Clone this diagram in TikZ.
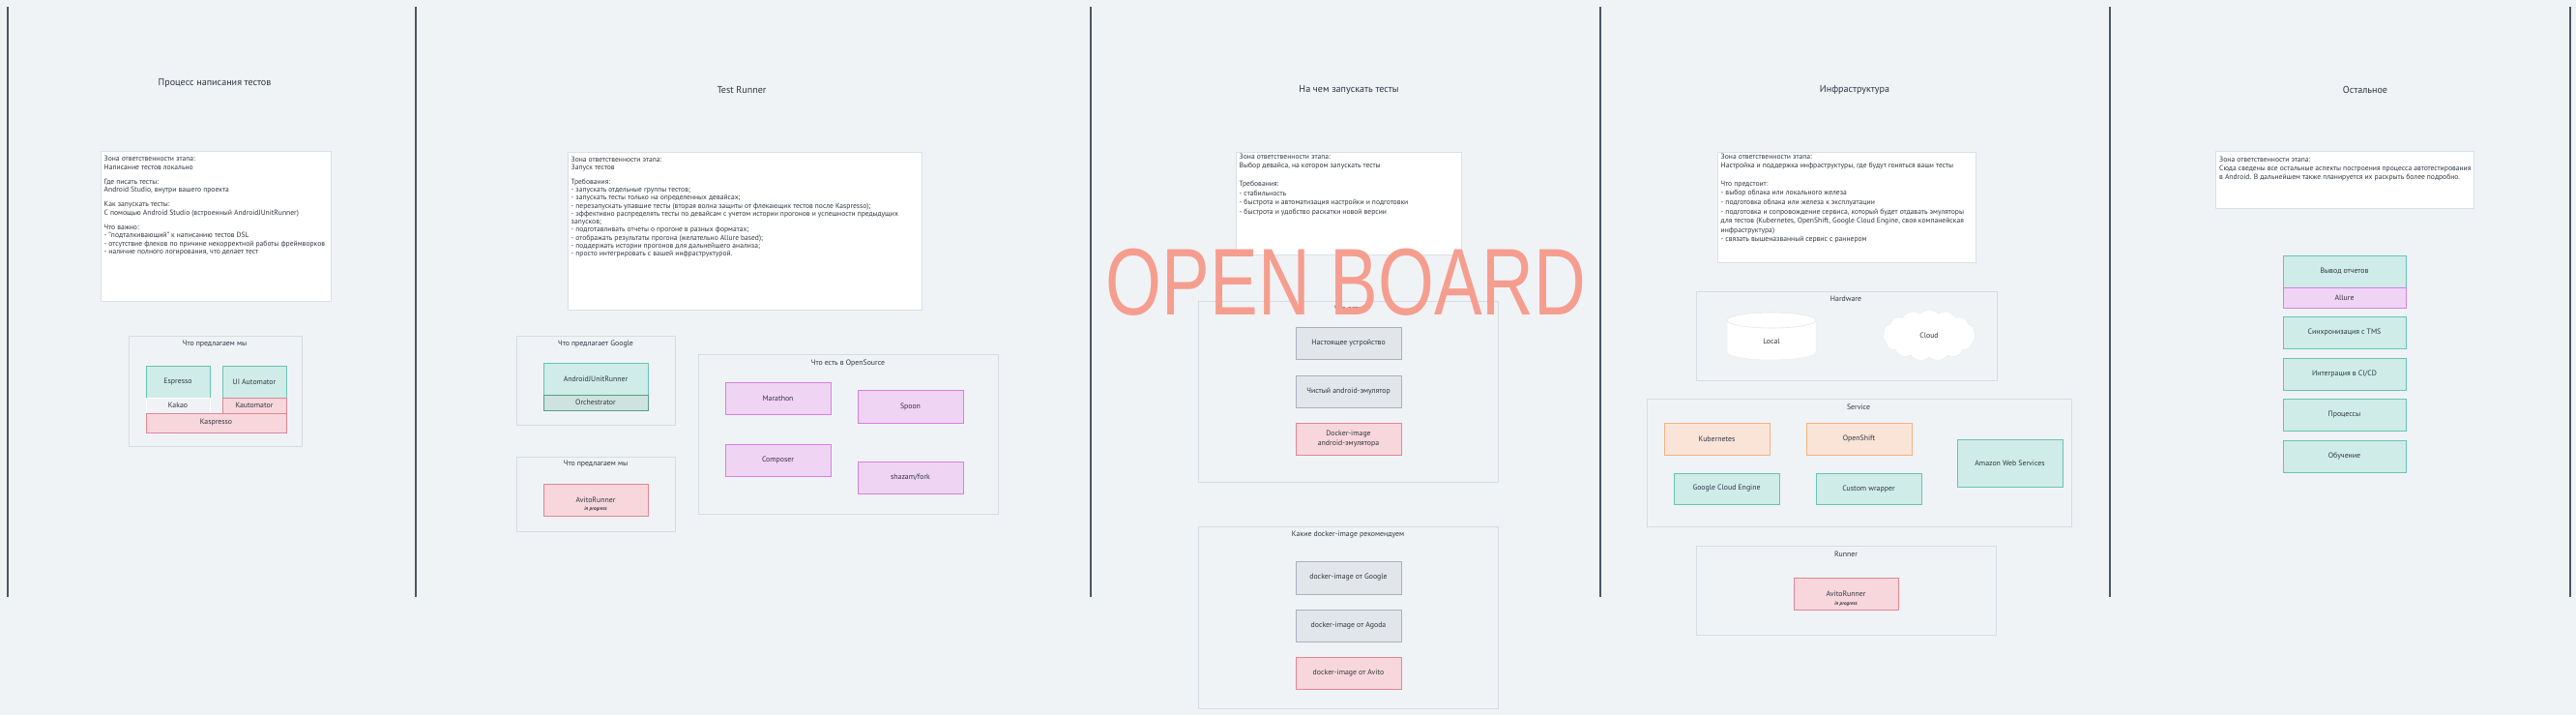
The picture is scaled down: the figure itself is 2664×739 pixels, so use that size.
\documentclass[tikz,border=0pt]{standalone}
\usepackage{fontspec}
\usepackage{graphicx}
\setmainfont{PT Sans}
\newfontfamily\wmfont{Liberation Sans}
\usetikzlibrary{shapes.geometric,shapes.symbols}
\definecolor{bg}{RGB}{240,243,246}
\definecolor{tealF}{RGB}{207,236,233}
\definecolor{tealD}{RGB}{103,196,180}
\definecolor{pinkF}{RGB}{248,215,220}
\definecolor{pinkD}{RGB}{226,133,149}
\definecolor{purpF}{RGB}{240,212,244}
\definecolor{purpD}{RGB}{214,128,224}
\definecolor{greyF}{RGB}{226,230,234}
\definecolor{greyD}{RGB}{168,177,189}
\definecolor{orF}{RGB}{250,228,216}
\definecolor{orD}{RGB}{240,178,130}
\definecolor{orchF}{RGB}{207,227,222}
\definecolor{orchD}{RGB}{84,160,140}
\definecolor{grpD}{RGB}{214,220,228}
\definecolor{wD}{RGB}{218,224,232}
\definecolor{txtC}{RGB}{48,54,66}
\definecolor{vlineC}{RGB}{75,85,100}
\definecolor{wmC}{RGB}{245,158,143}
\newcommand\lblf{\fontsize{7.8}{9.5}\selectfont}
\newcommand\ttlf{\fontsize{10.1}{12}\selectfont}
\newcommand\ipf{\fontsize{5.2}{6}\selectfont\bfseries\itshape}
\newcommand\bx[7]{\node[#6, minimum width={(#4)-(#2)}, minimum height={(#5)-(#3)}] (#1) at ({((#2)+(#4))/2},{((#3)+(#5))/2}) {#7};}
\tikzset{
  base/.style={inner sep=0pt, outer sep=0pt, line width=1pt, align=center, font=\lblf, text=txtC},
  teal/.style={base, fill=tealF, draw=tealD},
  pink/.style={base, fill=pinkF, draw=pinkD},
  purp/.style={base, fill=purpF, draw=purpD},
  grey/.style={base, fill=greyF, draw=greyD},
  orng/.style={base, fill=orF, draw=orD},
  orch/.style={base, fill=orchF, draw=orchD},
  plain/.style={base, fill=bg, draw=white},
  grp/.style={base, draw=grpD},
  wbox/.style={base, fill=white, draw=wD},
  gtitle/.style={font=\lblf, text=txtC, inner sep=0pt},
  stitle/.style={font=\ttlf, text=txtC, inner sep=0pt},
  ipl/.style={font=\ipf, text=txtC, inner sep=0pt},
  body/.style={text=txtC, inner sep=0pt, align=left, anchor=north west},
  vline/.style={draw=vlineC, line width=1.3pt}
}
\begin{document}
\begin{tikzpicture}[x=1pt,y=-1pt]
\fill[bg] (0,0) rectangle (2664,739);
\useasboundingbox (0,0) rectangle (2664,739);

% vertical separators
\foreach \n/\xx in {v1/8,v2/430,v3/1128,v4/1655,v5/2182,v6/2658}{
  \coordinate (\n a) at (\xx,7);
  \coordinate (\n b) at (\xx,617);
  \draw[vline] (\n a) -- (\n b);
}

% section titles
\node[stitle] (s1) at (222,86) {Процесс написания тестов};
\node[stitle] (s2) at (767,93) {Test Runner};
\node[stitle] (s3) at (1395,93) {На чем запускать тесты};
\node[stitle] (s4) at (1918,93) {Инфраструктура};
\node[stitle] (s5) at (2446,93) {Остальное};

% ---------- section 1 ----------
\bx{t1}{104}{156}{342}{311}{wbox}{}
\node[body, font={\fontsize{7.6}{8.5}\selectfont}] (t1x) at (107.5,161) {Зона ответственности этапа:\\
Написание тестов локально\\[6.5pt]
Где писать тесты:\\
Android Studio, внутри вашего проекта\\[6.5pt]
Как запускать тесты:\\
С помощью Android Studio (встроенный AndroidJUnitRunner)\\[6.5pt]
Что важно:\\
- "подталкивающий" к написанию тестов DSL\\
- отсутствие флеков по причине некорректной работы фреймворков\\
- наличие полного логирования, что делает тест};

\bx{g1}{133}{347}{312}{461}{grp}{}
\node[gtitle] (g1t) at (222,356) {Что предлагаем мы};
\bx{espresso}{151}{378}{217}{411}{teal}{Espresso}
\bx{uiauto}{230}{378}{296}{411}{teal}{UI Automator}
\bx{kakao}{151}{411}{217}{427}{plain}{Kakao}
\bx{kautomator}{230}{411}{296}{427}{pink}{Kautomator}
\bx{kaspresso}{151}{427}{296}{447}{pink}{Kaspresso}

% ---------- section 2 ----------
\bx{t2}{587}{157}{953}{320}{wbox}{}
\node[body, font={\fontsize{7.55}{8.3}\selectfont}] (t2x) at (590.5,162) {Зона ответственности этапа:\\
Запуск тестов\\[6pt]
Требования:\\
- запускать отдельные группы тестов;\\
- запускать тесты только на определенных девайсах;\\
- перезапускать упавшие тесты (вторая волна защиты от флекающих тестов после Kaspresso);\\
- эффективно распределять тесты по девайсам с учетом истории прогонов и успешности предыдущих\\
запусков;\\
- подготавливать отчеты о прогоне в разных форматах;\\
- отображать результаты прогона (желательно Allure based);\\
- поддержать истории прогонов для дальнейшего анализа;\\
- просто интегрировать с вашей инфраструктурой.};

\bx{g2}{534}{347}{698}{439}{grp}{}
\node[gtitle] (g2t) at (616,356) {Что предлагает Google};
\bx{ajur}{562}{375}{670}{408}{teal}{AndroidJUnitRunner}
\bx{orchestr}{562}{408}{670}{424}{orch}{Orchestrator}

\bx{g3}{534}{472}{698}{549}{grp}{}
\node[gtitle] (g3t) at (616,480) {Что предлагаем мы};
\bx{avito1}{562}{500}{670}{533}{pink}{AvitoRunner}
\node[ipl] (avito1ip) at ([yshift=-10pt]avito1.center) {in progress};

\bx{g4}{722}{366}{1032}{531}{grp}{}
\node[gtitle] (g4t) at (877,375) {Что есть в OpenSource};
\bx{marathon}{750}{395}{859}{428}{purp}{Marathon}
\bx{spoon}{887}{403}{996}{437}{purp}{Spoon}
\bx{composer}{750}{459}{859}{492}{purp}{Composer}
\bx{fork}{887}{477}{996}{510}{purp}{shazam/fork}

% ---------- section 3 ----------
\bx{t3}{1278}{157}{1511}{263}{wbox}{}
\node[body, font={\fontsize{7.6}{9.7}\selectfont}] (t3x) at (1281.5,158.5) {Зона ответственности этапа:\\
Выбор девайса, на котором запускать тесты\\[9pt]
Требования:\\
- стабильность\\
- быстрота и автоматизация настройки и подготовки\\
- быстрота и удобство раскатки новой версии};

\bx{g5}{1239}{311}{1549}{498}{grp}{}
\node[gtitle] (g5t) at (1394,319) {Что есть};
\bx{real}{1340}{338}{1449}{371}{grey}{Настоящее устройство}
\bx{emu}{1340}{388}{1449}{421}{grey}{Чистый android-эмулятор}
\bx{dockemu}{1340}{437}{1449}{470}{pink}{Docker-image\\android-эмулятора}

\bx{g6}{1239}{544}{1549}{732}{grp}{}
\node[gtitle] (g6t) at (1394,553) {Какие docker-image рекомендуем};
\bx{dgoogle}{1340}{580}{1449}{614}{grey}{docker-image от Google}
\bx{dagoda}{1340}{630}{1449}{663}{grey}{docker-image от Agoda}
\bx{davito}{1340}{679}{1449}{712}{pink}{docker-image от Avito}

% ---------- section 4 ----------
\bx{t4}{1776}{157}{2043}{271}{wbox}{}
\node[body, font={\fontsize{7.6}{9.6}\selectfont}] (t4x) at (1779.5,158.5) {Зона ответственности этапа:\\
Настройка и поддержка инфраструктуры, где будут гоняться ваши тесты\\[9pt]
Что предстоит:\\
- выбор облака или локального железа\\
- подготовка облака или железа к эксплуатации\\
- подготовка и сопровождение сервиса, который будет отдавать эмуляторы\\
для тестов (Kubernetes, OpenShift, Google Cloud Engine, своя компанейская\\
инфраструктура)\\
- связать вышеназванный сервис с раннером};

\bx{g7}{1754}{301}{2065}{393}{grp}{}
\node[gtitle] (g7t) at (1909,309) {Hardware};
% Local cylinder
\fill[white] (1786,331) -- (1786,364) arc[start angle=180, end angle=0, x radius=46, y radius=8]
  -- (1878,331) arc[start angle=0, end angle=-180, x radius=46, y radius=8] -- cycle;
\draw[grpD!70, line width=0.6pt] (1832,331) ellipse[x radius=46, y radius=8];
\draw[grpD!50, line width=0.5pt] (1786,331) -- (1786,364) arc[start angle=180, end angle=0, x radius=46, y radius=8] -- (1878,331);
\node[font=\lblf, text=txtC, inner sep=0pt] (local) at (1832,353) {Local};
% Cloud
\node[cloud, cloud puffs=15, cloud puff arc=100, aspect=1.8, minimum width=96pt, minimum height=53pt,
  inner sep=0pt, fill=white, draw=grpD!50, line width=0.6pt, font=\lblf, text=txtC] (cloud) at (1995,346.5) {};
\node[font=\lblf, text=txtC, inner sep=0pt] (cloudl) at (1995,347) {Cloud};

\bx{g8}{1703}{412}{2142}{544}{grp}{}
\node[gtitle] (g8t) at (1922,421) {Service};
\bx{kube}{1721}{437}{1830}{470}{orng}{Kubernetes}
\bx{oshift}{1868}{437}{1977}{470}{orng}{OpenShift}
\bx{gce}{1731}{489}{1840}{521}{teal}{Google Cloud Engine}
\bx{custom}{1878}{489}{1987}{521}{teal}{Custom wrapper}
\bx{aws}{2024}{454}{2133}{503}{teal}{Amazon Web Services}

\bx{g9}{1754}{564}{2064}{656}{grp}{}
\node[gtitle] (g9t) at (1909,573) {Runner};
\bx{avito2}{1855}{597}{1963}{630}{pink}{AvitoRunner}
\node[ipl] (avito2ip) at ([yshift=-10.5pt]avito2.center) {in progress};

% ---------- section 5 ----------
\bx{t5}{2291}{156}{2558}{215}{wbox}{}
\node[body, font={\fontsize{7.6}{9.3}\selectfont}] (t5x) at (2295,161.5) {Зона ответственности этапа:\\
Сюда сведены все остальные аспекты построения процесса автотестирования\\
в Android. В дальнейшем также планируется их раскрыть более подробно.};

\bx{reports}{2361}{264}{2488}{297}{teal}{Вывод отчетов}
\bx{allure}{2361}{297}{2488}{318}{purp}{Allure}
\bx{tms}{2361}{327}{2488}{360}{teal}{Синхронизация с TMS}
\bx{cicd}{2361}{370}{2488}{403}{teal}{Интеграция в CI/CD}
\bx{proc}{2361}{412}{2488}{445}{teal}{Процессы}
\bx{learn}{2361}{455}{2488}{488}{teal}{Обучение}

% watermark
\node[text=wmC, inner sep=0pt, font={\wmfont\fontsize{98}{100}\selectfont}] (ob) at (1392,292) {\scalebox{0.76}[1]{OPEN BOARD}};
\end{tikzpicture}
\end{document}
